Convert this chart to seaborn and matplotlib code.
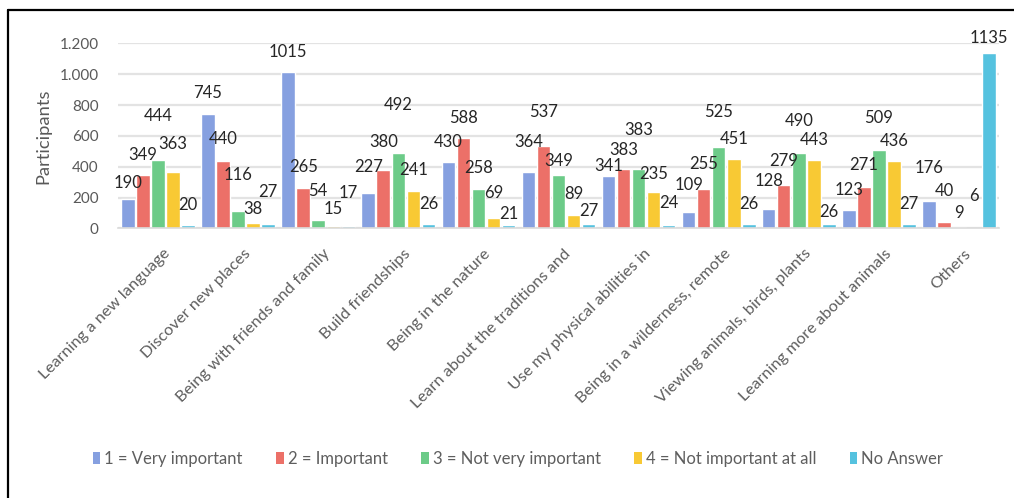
import matplotlib
matplotlib.use("Agg")
import matplotlib.pyplot as plt
import pandas as pd
import seaborn as sns
from matplotlib.lines import Line2D
from matplotlib.patches import Patch
from matplotlib.ticker import FuncFormatter, FixedLocator
from matplotlib.transforms import ScaledTranslation

# ---- data -----------------------------------------------------------------
categories = [
    "Learning a new language",
    "Discover new places",
    "Being with friends and family",
    "Build friendships",
    "Being in the nature",
    "Learn about the traditions and",
    "Use my physical abilities in",
    "Being in a wilderness, remote",
    "Viewing animals, birds, plants",
    "Learning more about animals",
    "Others",
]
very_important = [190, 745, 1015, 227, 430, 364, 341, 109, 128, 123, 176]
important = [349, 440, 265, 380, 588, 537, 383, 255, 279, 271, 40]
not_very_important = [444, 116, 54, 492, 258, 349, 383, 525, 490, 509, 9]
not_important_at_all = [363, 38, 15, 241, 69, 89, 235, 451, 443, 436, 6]
no_answer = [20, 27, 17, 26, 21, 27, 24, 26, 26, 27, 1135]
series_names = [
    "1 = Very important",
    "2 = Important",
    "3 = Not very important",
    "4 = Not important at all",
    "No Answer",
]
y_ticks = [0, 200, 400, 600, 800, 1000, 1200]

# ---- styling --------------------------------------------------------------
colors = ["#86A0E0", "#EC7068", "#6CCB88", "#F8C934", "#55C2DF"]
# vertical distance (pixels) from each bar top to the centre of its value label
label_lift = [
    [17, 21, 20, 27, 21, 31, 10, 27, 28, 20, 34],
    [20, 22, 21, 28, 20, 34, 20, 26, 25, 22, 32],
    [44, 36, 30, 48, 21, 14, 40, 36, 32, 32, 15],
    [29, 14, 18, 22, 25, 21, 19, 20, 21, 21, 32],
    [21, 33, 33, 21, 12, 14, 22, 21, 13, 21, 16],
]

W, H = 1014, 498
sns.set_theme(style="white")
plt.rcParams["font.family"] = ["Lato", "DejaVu Sans"]

all_series = [very_important, important, not_very_important,
              not_important_at_all, no_answer]
df = pd.DataFrame(
    [(cat, name, val)
     for name, vals in zip(series_names, all_series)
     for cat, val in zip(categories, vals)],
    columns=["Category", "Rating", "Participants"],
)

fig = plt.figure(figsize=(W / 100, H / 100), dpi=100)
ax = fig.add_axes([118 / W, 1 - 228.5 / H, (999 - 118) / W, (228.5 - 43.3) / H])

sns.barplot(
    data=df, x="Category", y="Participants", hue="Rating",
    order=categories, hue_order=series_names, palette=colors,
    width=0.94, gap=0.1, saturation=1, ax=ax, legend=False,
)

ax.set_xlim(-0.5, len(categories) - 0.5)
ax.set_ylim(0, 1200)
ax.yaxis.set_major_locator(FixedLocator(y_ticks))
ax.yaxis.set_major_formatter(FuncFormatter(lambda v, _: f"{int(v):,}".replace(",", ".")))
ax.grid(axis="y", color="#E3E3E3", linewidth=1.6)
ax.set_axisbelow(True)
for side in ["top", "right", "left"]:
    ax.spines[side].set_visible(False)
ax.spines["bottom"].set_color("#DADADA")
ax.spines["bottom"].set_linewidth(1.2)

ax.tick_params(axis="y", length=0, pad=14, labelsize=11, labelcolor="#595959")
ax.tick_params(axis="x", length=0, pad=13, labelsize=11.8, labelcolor="#5E5E5E")
ax.set_xlabel("")
ax.set_ylabel("Participants", fontsize=13.2, color="#595959", labelpad=6)

ax.set_xticks(range(len(categories)))
ax.set_xticklabels(categories, rotation=45, ha="right", rotation_mode="anchor")
shift = ScaledTranslation(5 / 100, 0, fig.dpi_scale_trans)
for lbl in ax.get_xticklabels():
    lbl.set_transform(lbl.get_transform() + shift)

# value labels above each bar
for container, vals, lifts in zip(ax.containers, all_series, label_lift):
    for bar, val, lift in zip(container, vals, lifts):
        x = bar.get_x() + bar.get_width() / 2
        ax.annotate(
            f"{val}", (x, bar.get_height()),
            xytext=(0, lift - 5.5), textcoords="offset pixels",
            ha="center", va="baseline", fontsize=12, color="#262626",
            annotation_clip=False,
        )

# legend along the bottom
handles = [Patch(facecolor=c, edgecolor="none") for c in colors]
fig.legend(
    handles, series_names, loc="center", bbox_to_anchor=(518 / W, 1 - 459 / H),
    ncol=5, frameon=False, fontsize=12, labelcolor="#5E5E5E",
    handlelength=0.45, handleheight=0.75, handletextpad=0.25, columnspacing=2.0,
)

# chart frame (top and left edges)
lw = 1.6
fig.add_artist(Line2D([8.3 / W, 1], [1 - 10 / H, 1 - 10 / H],
                      transform=fig.transFigure, color="black", linewidth=lw))
fig.add_artist(Line2D([8.3 / W, 8.3 / W], [0, 1 - 10 / H],
                      transform=fig.transFigure, color="black", linewidth=lw))

fig.savefig("out.png", dpi=100, facecolor="white")
